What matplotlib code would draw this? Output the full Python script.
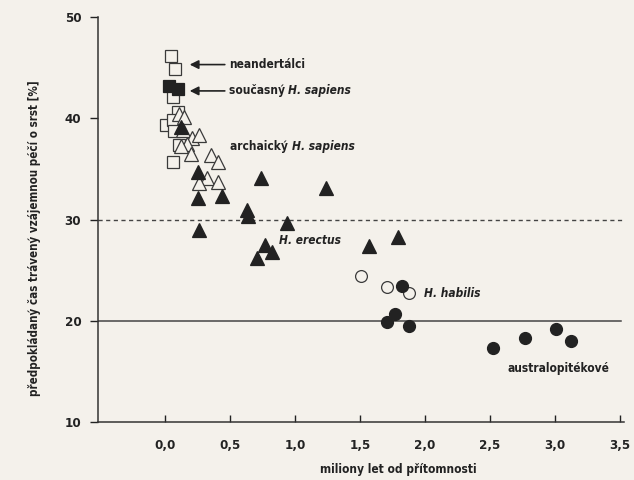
import matplotlib
matplotlib.use("Agg")
import matplotlib.pyplot as plt

plt.rcParams["font.family"] = ["DejaVu Sans"]
plt.rcParams["font.stretch"] = "condensed"

INK = "#222222"
BG = "#f4f1eb"

# --- data --------------------------------------------------------------
neand_x = [0.05, 0.08, 0.06, 0.10, 0.01, 0.06, 0.07, 0.11, 0.06]
neand_y = [46.1, 44.9, 42.1, 40.6, 39.3, 39.8, 38.7, 37.4, 35.7]

modern_x = [0.03, 0.10]
modern_y = [43.2, 42.9]

archaic_x = [0.11, 0.15, 0.14, 0.21, 0.26, 0.17, 0.12, 0.20, 0.35, 0.41, 0.32, 0.26, 0.41]
archaic_y = [40.4, 40.1, 38.8, 38.0, 38.3, 37.5, 37.3, 36.5, 36.4, 35.7, 34.1, 33.6, 33.7]

erectus_x = [0.12, 0.25, 0.74, 1.24, 0.25, 0.44, 0.63, 0.64, 0.94, 0.26, 0.77, 0.82, 0.71, 1.57, 1.79]
erectus_y = [39.1, 34.7, 34.1, 33.1, 32.1, 32.3, 30.9, 30.3, 29.7, 29.0, 27.5, 26.8, 26.2, 27.4, 28.3]

habilis_open_x = [1.51, 1.71, 1.88]
habilis_open_y = [24.4, 23.3, 22.7]
habilis_x = [1.82, 1.77, 1.71, 1.88]
habilis_y = [23.4, 20.7, 19.9, 19.5]

austr_x = [2.52, 2.77, 3.01, 3.12]
austr_y = [17.3, 18.3, 19.2, 18.0]

xticks = [0.0, 0.5, 1.0, 1.5, 2.0, 2.5, 3.0, 3.5]
yticks = [10, 20, 30, 40, 50]

# --- figure -------------------------------------------------------------
fig = plt.figure(figsize=(6.34, 4.8), dpi=100, facecolor=BG)
ax = fig.add_axes([0.1546, 0.1208, 0.8297, 0.8438], facecolor=BG)
ax.set_xlim(-0.515, 3.53)
ax.set_ylim(10, 50)

ax.axhline(30, color="#444444", lw=1.0, ls=(0, (3, 2.5)), zorder=1)
ax.axhline(20, xmax=0.995, color="#444444", lw=1.1, zorder=1)

ms = 8.5
ax.plot(neand_x, neand_y, "s", ms=ms, mfc=BG, mec="#3a3a3a", mew=0.9, zorder=2)
ax.plot(modern_x, modern_y, "s", ms=ms, mfc=INK, mec=INK, mew=0.9, zorder=3)
ax.plot(archaic_x, archaic_y, "^", ms=ms + 1, mfc=BG, mec="#3a3a3a", mew=0.9, zorder=3)
ax.plot(erectus_x, erectus_y, "^", ms=ms + 1, mfc=INK, mec=INK, mew=0.9, zorder=4)
ax.plot(habilis_open_x, habilis_open_y, "o", ms=ms, mfc=BG, mec="#3a3a3a", mew=0.9, zorder=3)
ax.plot(habilis_x, habilis_y, "o", ms=ms, mfc=INK, mec=INK, zorder=4)
ax.plot(austr_x, austr_y, "o", ms=ms, mfc=INK, mec=INK, zorder=4)

lab = dict(fontsize=8.6, color=INK, va="center", ha="left", fontweight="bold")
arrow = dict(arrowstyle="-|>", color=INK, lw=1.2, mutation_scale=13, shrinkA=0, shrinkB=0)


def label(x, y, plain, ital=None):
    t = ax.text(x, y, plain, **lab)
    if ital:
        ax.annotate(ital, xy=(1, 0.5), xycoords=t, style="italic", **lab)


ax.annotate("", xy=(0.19, 45.3), xytext=(0.46, 45.3), arrowprops=arrow)
label(0.49, 45.3, "neandertálci")
ax.annotate("", xy=(0.19, 42.7), xytext=(0.46, 42.7), arrowprops=arrow)
label(0.49, 42.7, "současný ", "H. sapiens")
label(0.50, 37.2, "archaický ", "H. sapiens")
ax.text(0.88, 27.9, "H. erectus", style="italic", **lab)
ax.text(1.99, 22.7, "H. habilis", style="italic", **lab)
label(2.63, 15.3, "australopitékové")

ax.set_xticks(xticks)
ax.set_xticklabels([f"{v:.1f}".replace(".", ",") for v in xticks])
ax.set_yticks(yticks)
ax.tick_params(axis="x", direction="in", length=5, width=1, colors=INK, labelsize=9.5, pad=12)
ax.tick_params(axis="y", direction="out", length=6, width=1, colors=INK, labelsize=9.5, pad=6)
for t in ax.get_xticklabels() + ax.get_yticklabels():
    t.set_fontweight("bold")

for s in ("top", "right"):
    ax.spines[s].set_visible(False)
for s in ("left", "bottom"):
    ax.spines[s].set_color("#333333")
    ax.spines[s].set_linewidth(1.1)

ax.set_xlabel("miliony let od přítomnosti", fontsize=8.6, fontweight="bold", color=INK)
ax.xaxis.set_label_coords(0.57, -0.1)
ax.set_ylabel("předpokládaný čas trávený vzájemnou péčí o srst [%]", fontsize=8.3,
              fontweight="bold", color=INK)
ax.yaxis.set_label_coords(-0.108, 0.455)

fig.savefig("out.png", dpi=100, facecolor=BG)
